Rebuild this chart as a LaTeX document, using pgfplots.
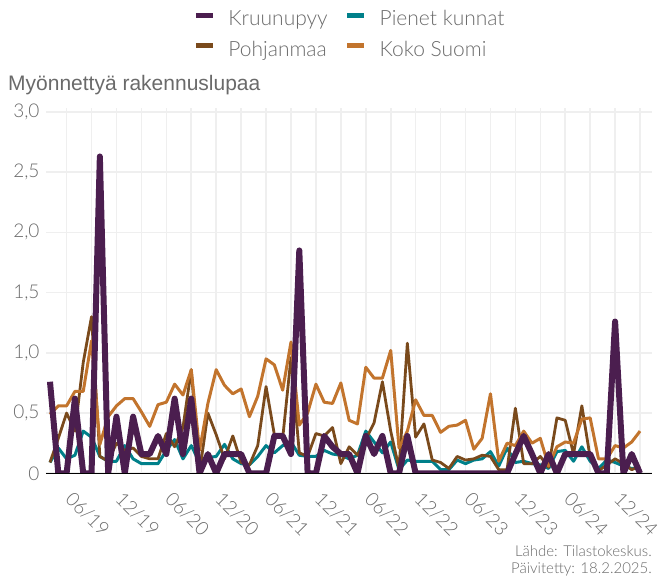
\documentclass[border=0pt]{standalone}
\usepackage{fontspec}
\setmainfont{Lato Light}
\newfontfamily\arialfont{Liberation Sans}
\usepackage{pgfplots}
\usepackage{pgfplotstable}
\pgfplotsset{compat=1.18}
\definecolor{kru}{HTML}{4B1E4F}
\definecolor{pie}{HTML}{00808A}
\definecolor{poh}{HTML}{7A4A1C}
\definecolor{koko}{HTML}{C2742D}
\definecolor{txt}{HTML}{6A6A6A}
\definecolor{gridc}{HTML}{EFEFEF}

% month index: 0 = 01/2019 ... 71 = 12/2024
\pgfplotstableread{
i kru pie poh koko
0 0.76 0.09 0.09 0.49
1 0 0.21 0.29 0.56
2 0 0.12 0.50 0.56
3 0.62 0.15 0.35 0.68
4 0 0.35 0.92 0.68
5 0 0.30 1.30 1.10
6 2.63 0.14 0.14 0.24
7 0 0.10 0.10 0.47
8 0.47 0.10 0.25 0.56
9 0 0.23 0.19 0.62
10 0.47 0.12 0.21 0.62
11 0.16 0.08 0.14 0.51
12 0.16 0.08 0.12 0.39
13 0.31 0.08 0.12 0.57
14 0.16 0.19 0.33 0.59
15 0.62 0.28 0.22 0.74
16 0.16 0.12 0.38 0.65
17 0.62 0.23 0.86 0.86
18 0 0.09 0.01 0.19
19 0.16 0.13 0.50 0.58
20 0 0.14 0.32 0.86
21 0.16 0.24 0.12 0.73
22 0.16 0.12 0.31 0.66
23 0.16 0.08 0.09 0.70
24 0 0.07 0.07 0.47
25 0 0.14 0.23 0.64
26 0 0.23 0.72 0.95
27 0.31 0.17 0.32 0.90
28 0.31 0.23 0.29 0.69
29 0.16 0.26 0.96 1.09
30 1.85 0.15 0.17 0.40
31 0 0.14 0.14 0.50
32 0 0.14 0.33 0.74
33 0.31 0.19 0.31 0.59
34 0.22 0.16 0.38 0.58
35 0.16 0.15 0.08 0.75
36 0.16 0.12 0.22 0.44
37 0 0.15 0.15 0.41
38 0.31 0.35 0.28 0.88
39 0.16 0.26 0.42 0.79
40 0.31 0.17 0.76 0.79
41 0 0.26 0.35 1.02
42 0 0.03 0.04 0.21
43 0.31 0.11 1.08 0.35
44 0 0.10 0.30 0.61
45 0 0.10 0.41 0.48
46 0 0.10 0.11 0.48
47 0 0.03 0.09 0.34
48 0 0.03 0.04 0.39
49 0 0.11 0.14 0.40
50 0 0.08 0.11 0.44
51 0 0.11 0.12 0.20
52 0 0.12 0.15 0.29
53 0 0.18 0.14 0.66
54 0 0.06 0.03 0.10
55 0 0.21 0.03 0.25
56 0.16 0.09 0.54 0.23
57 0.31 0.10 0.08 0.35
58 0.16 0.08 0.08 0.25
59 0 0.07 0.14 0.29
60 0.16 0.04 0.05 0.06
61 0 0.18 0.46 0.22
62 0.16 0.19 0.44 0.26
63 0.16 0.10 0.16 0.25
64 0.16 0.22 0.56 0.45
65 0.16 0.10 0.13 0.46
66 0 0.04 0.02 0.12
67 0 0.11 0.07 0.12
68 1.26 0.09 0.12 0.23
69 0 0.06 0.08 0.21
70 0.16 0.04 0.03 0.26
71 0 0.04 0.06 0.35
}\lupadata

\begin{document}
\begin{tikzpicture}
\useasboundingbox (-46pt,-104.7pt) rectangle (613pt,473.3pt);
\begin{axis}[
    scale only axis,
    width=606pt, height=365pt,
    xmin=-0.48, xmax=72.44,
    ymin=0, ymax=3.03,
    axis line style={draw=none},
    xtick={5,11,...,71},
    xticklabels={06/19,12/19,06/20,12/20,06/21,12/21,06/22,12/22,06/23,12/23,06/24,12/24},
    minor xtick={2,8,...,68},
    ytick={0,0.5,...,3},
    yticklabels={0,{0,5},{1,0},{1,5},{2,0},{2,5},{3,0}},
    xmajorgrids, xminorgrids, ymajorgrids,
    major grid style={gridc, line width=1.6pt},
    minor grid style={gridc, line width=1.6pt},
    major tick length=0pt, minor tick length=0pt,
    tick label style={font=\fontsize{19}{22}\selectfont, text=txt},
    xticklabel style={xshift=-4pt, yshift=-41pt, rotate=-45, anchor=center},
    yticklabel style={anchor=east, xshift=-3pt},
    clip mode=individual,
    legend columns=2,
    legend cell align=left,
    legend style={at={(0.5,1.269)}, anchor=north, draw=none, fill=none,
        font=\fontsize{21}{24}\selectfont, text=txt, inner sep=0pt,
        nodes={inner sep=0pt}, row sep=14pt,
        /tikz/every odd column/.append style={column sep=13pt},
        /tikz/every even column/.append style={column sep=17pt}},
    legend image code/.code={\draw[#1, line width=5pt] (0pt,0.35em) -- (17pt,0.35em);},
]
\addlegendimage{kru}\addlegendentry{Kruunupyy}
\addlegendimage{pie}\addlegendentry{Pienet kunnat}
\addlegendimage{poh}\addlegendentry{Pohjanmaa}
\addlegendimage{koko}\addlegendentry{Koko Suomi}

\addplot[pie, line width=3pt, line join=round, forget plot] table[x=i, y=pie] {\lupadata};
\addplot[poh, line width=2.8pt, line join=round, forget plot] table[x=i, y=poh] {\lupadata};
\addplot[koko, line width=3pt, line join=round, forget plot] table[x=i, y=koko] {\lupadata};
\addplot[kru, line width=6pt, line join=round, forget plot] table[x=i, y=kru] {\lupadata};

\draw[black, line width=1.3pt] (rel axis cs:0,0) -- (rel axis cs:1,0);
\end{axis}
\node[anchor=base west, inner sep=0pt, text=txt, font=\arialfont\fontsize{21}{24}\selectfont]
    at (-38pt,383pt) {Myönnettyä rakennuslupaa};
\node[anchor=base east, inner sep=0pt, text=txt, font=\fontsize{15}{18}\selectfont]
    at (606pt,-83pt) {Lähde: Tilastokeskus.};
\node[anchor=base east, inner sep=0pt, text=txt, font=\fontsize{15}{18}\selectfont]
    at (606pt,-100pt) {Päivitetty: 18.2.2025.};
\end{tikzpicture}
\end{document}
